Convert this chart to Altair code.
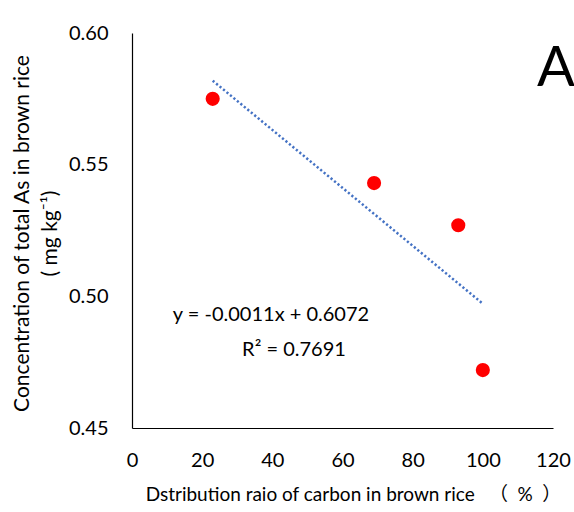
import altair as alt
import pandas as pd

# Measured values
carbon_ratio = [23, 69, 93, 100]          # distribution ratio of carbon in brown rice (%)
arsenic = [0.575, 0.543, 0.527, 0.472]    # total As in brown rice (mg/kg)

# Linear fit reported on the chart
slope = -0.0011
intercept = 0.6072
r_squared = 0.7691

x_ticks = [0, 20, 40, 60, 80, 100, 120]
y_ticks = [0.45, 0.50, 0.55, 0.60]

FONT = "Lato"
TITLE_FONT = "Lato, 'Noto Sans CJK SC'"  # CJK fallback for the full-width brackets

points_df = pd.DataFrame({"ratio": carbon_ratio, "as_conc": arsenic})
fit_df = pd.DataFrame({"ratio": [min(carbon_ratio), max(carbon_ratio)]})

x_scale = alt.Scale(domain=[0, 120], nice=False, zero=False)
y_scale = alt.Scale(domain=[0.45, 0.60], nice=False, zero=False)

x_axis = alt.Axis(
    values=x_ticks, format="d", ticks=False, grid=False,
    labelFlush=False, labelOverlap=False,
    domainColor="black", domainWidth=1.2,
    labelFont=FONT, labelFontSize=20, labelColor="black", labelPadding=22,
    title="Dstribution raio of carbon in brown rice \u2002（\u2002%\u2002）",
    titleFont=TITLE_FONT, titleFontSize=19, titleFontWeight="normal", titleColor="black",
    titlePadding=15, titleX=221, titleAnchor="middle",
)
y_axis = alt.Axis(
    values=y_ticks, format=".2f", ticks=False, grid=False,
    labelFlush=False, labelOverlap=False,
    domainColor="black", domainWidth=1.2,
    labelFont=FONT, labelFontSize=20, labelColor="black", labelPadding=24,
    title=["Concentration of total As in brown rice", "( mg kg⁻¹)"],
    titleFont=FONT, titleFontSize=21, titleFontWeight="normal", titleColor="black",
    titleLineHeight=28, titleX=-100, titleY=200, titleAnchor="middle",
)

points = alt.Chart(points_df).mark_circle(color="#ff0000", opacity=1, size=200).encode(
    x=alt.X("ratio:Q", scale=x_scale, axis=x_axis),
    y=alt.Y("as_conc:Q", scale=y_scale, axis=y_axis),
)

trend = alt.Chart(fit_df).transform_calculate(
    fit=f"{slope} * datum.ratio + {intercept}"
).mark_line(color="#4472c4", strokeWidth=2.5, strokeDash=[2.2, 2.3]).encode(
    x=alt.X("ratio:Q", scale=x_scale),
    y=alt.Y("fit:Q", scale=y_scale),
)

eq_text = alt.Chart(pd.DataFrame({"t": [f"y = {slope}x + {intercept}"]})).mark_text(
    font=FONT, fontSize=20, color="black", align="center", baseline="middle"
).encode(x=alt.value(139), y=alt.value(282), text="t:N")

r2_text = alt.Chart(pd.DataFrame({"t": [f"R² = {r_squared}"]})).mark_text(
    font=FONT, fontSize=20, color="black", align="center", baseline="middle"
).encode(x=alt.value(162), y=alt.value(317), text="t:N")

panel_label = alt.Chart(pd.DataFrame({"t": ["A"]})).mark_text(
    font=FONT, fontSize=56, color="black", align="center", baseline="middle"
).encode(x=alt.value(424), y=alt.value(36), text="t:N")

chart = (
    alt.layer(trend, points, eq_text, r2_text, panel_label)
    .properties(
        width=421, height=395,
        autosize=alt.AutoSizeParams(type="none"),
        padding={"left": 132, "top": 33, "right": 21, "bottom": 84},
        background="white",
    )
    .configure_view(stroke=None)
)

chart.save("out.html", embed_options={"renderer": "svg", "actions": False})
